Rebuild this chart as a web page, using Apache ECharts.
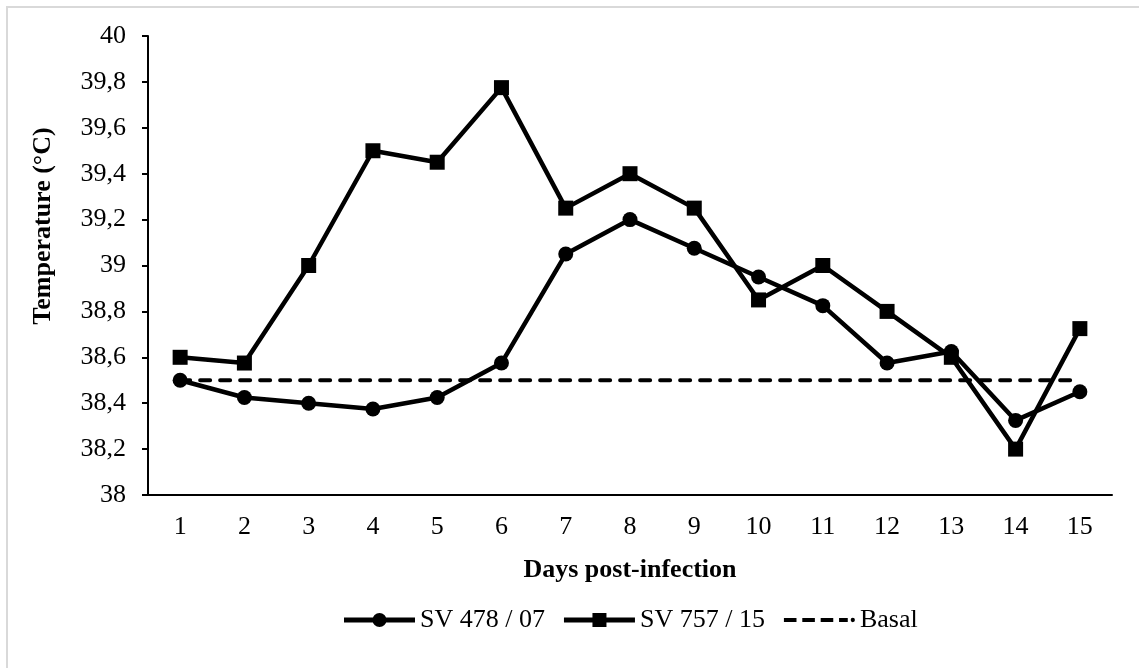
<!DOCTYPE html>
<html>
<head>
<meta charset="utf-8">
<script src="https://cdn.jsdelivr.net/npm/echarts@6/dist/echarts.min.js"></script>
<style>
  html, body { margin: 0; padding: 0; background: #fff; }
  #chart { width: 1139px; height: 668px; }
  #frame {
    position: absolute; left: 6px; top: 6px; width: 1200px; height: 700px;
    border-left: 2px solid #d9d9d9; border-top: 2px solid #d9d9d9;
    pointer-events: none;
  }
</style>
</head>
<body>
<div id="chart"></div>
<div id="frame"></div>
<script>
const days = ['1', '2', '3', '4', '5', '6', '7', '8', '9', '10', '11', '12', '13', '14', '15'];
const sv478 = [38.5, 38.425, 38.4, 38.375, 38.425, 38.575, 39.05, 39.2, 39.075, 38.95, 38.825, 38.575, 38.625, 38.325, 38.45];
const sv757 = [38.6, 38.575, 39.0, 39.5, 39.45, 39.775, 39.25, 39.4, 39.25, 38.85, 39.0, 38.8, 38.6, 38.2, 38.725];
const basal = [38.5, 38.5, 38.5, 38.5, 38.5, 38.5, 38.5, 38.5, 38.5, 38.5, 38.5, 38.5, 38.5, 38.5, 38.5];

const font = "'Liberation Serif', 'Times New Roman', serif";

// legend icons: thick line with marker, dashed line with a dot
const iconCircle = 'path://M0,5.5H71V10.5H0Z M28.5,8a7,7 0 1,1 14,0a7,7 0 1,1 -14,0Z';
const iconSquare = 'path://M0,5.5H71V10.5H0Z M28.5,1H42.5V15H28.5Z';
const iconDash = 'path://M0,6H13V10H0Z M19,6H32V10H19Z M38,6H51V10H38Z M57,6H66V10H57Z M69,8a2.2,2.2 0 1,1 4.4,0a2.2,2.2 0 1,1 -4.4,0Z';

const chart = echarts.init(document.getElementById('chart'));
chart.setOption({
  backgroundColor: '#fff',
  animation: false,
  textStyle: { fontFamily: font, color: '#000' },
  grid: { left: 148, right: 27, top: 36, bottom: 173 },
  legend: {
    top: 602,
    left: 339,
    itemWidth: 71,
    itemHeight: 16,
    itemGap: 19,
    textStyle: { fontFamily: font, fontSize: 26, color: '#000' },
    data: [
      { name: 'SV 478 / 07', icon: iconCircle },
      { name: 'SV 757 / 15', icon: iconSquare },
      { name: 'Basal', icon: iconDash },
    ],
  },
  xAxis: {
    type: 'category',
    data: days,
    boundaryGap: true,
    name: 'Days post-infection',
    nameLocation: 'middle',
    nameGap: 62,
    nameTextStyle: { fontFamily: font, fontSize: 26, fontWeight: 'bold', color: '#000' },
    axisLine: { lineStyle: { color: '#000', width: 2 } },
    axisTick: { length: 7, lineStyle: { color: '#000', width: 2 } },
    axisLabel: { fontFamily: font, fontSize: 26, color: '#000', margin: 19 },
  },
  yAxis: {
    type: 'value',
    min: 38,
    max: 40,
    interval: 0.2,
    splitLine: { show: false },
    axisLine: { show: true, lineStyle: { color: '#000', width: 2 } },
    axisTick: { show: true, length: 6, lineStyle: { color: '#000', width: 2 } },
    axisLabel: {
      fontFamily: font, fontSize: 26, color: '#000', margin: 22,
      formatter: (v) => String(+v.toFixed(1)).replace('.', ','),
    },
  },
  graphic: [
    {
      type: 'text',
      rotation: Math.PI / 2,
      x: 43, y: 226,
      style: {
        text: 'Temperature (°C)',
        font: "bold 26px " + font,
        fill: '#000',
        align: 'center',
        verticalAlign: 'middle',
      },
    },
  ],
  series: [
    {
      name: 'SV 478 / 07',
      type: 'line',
      data: sv478,
      symbol: 'circle',
      symbolSize: 15,
      lineStyle: { color: '#000', width: 4.5 },
      itemStyle: { color: '#000' },
      z: 3,
    },
    {
      name: 'SV 757 / 15',
      type: 'line',
      data: sv757,
      symbol: 'rect',
      symbolSize: 15,
      lineStyle: { color: '#000', width: 4.5 },
      itemStyle: { color: '#000' },
      z: 3,
    },
    {
      name: 'Basal',
      type: 'line',
      data: basal,
      symbol: 'none',
      lineStyle: { color: '#000', width: 4, type: [10, 10], cap: 'round' },
      itemStyle: { color: '#000' },
      z: 2,
    },
  ],
});
</script>
</body>
</html>
